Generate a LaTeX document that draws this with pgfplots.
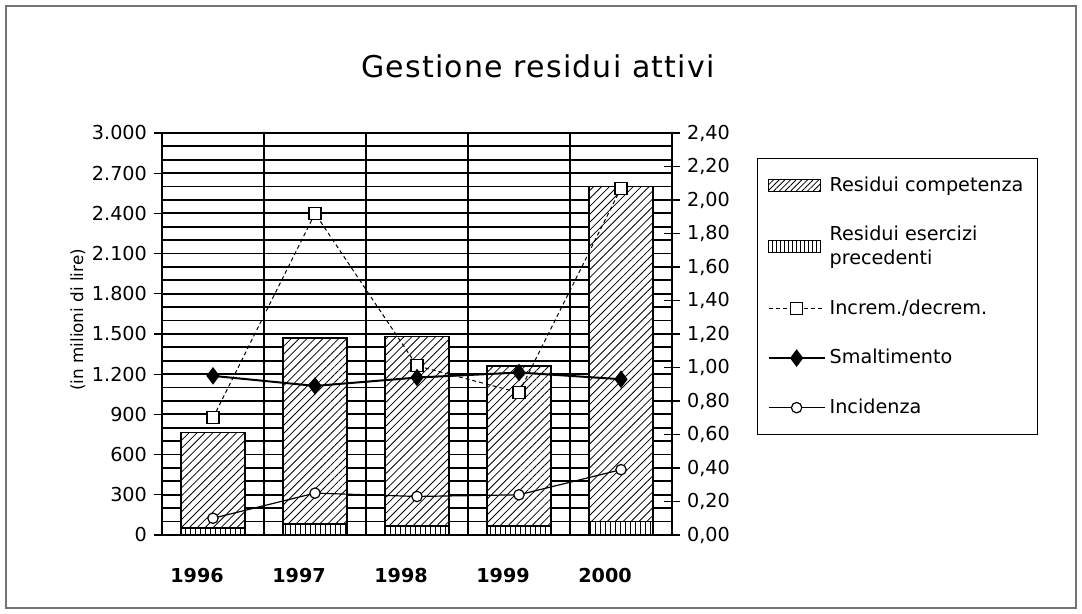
\documentclass[border=0pt]{standalone}
\usepackage{pgfplots}
\pgfplotsset{compat=1.18}
\usepackage{fontspec}
\setmainfont{DejaVu Sans}
\newfontfamily\titlefont[LetterSpace=4]{DejaVu Sans}
\usetikzlibrary{patterns.meta}
\pgfplotsset{
  mybarlegend/.style={legend image code/.code={\draw[##1] (5pt,-3pt) rectangle (31pt,3pt);}},
  mylinelegend/.style={legend image code/.code={\draw[mark repeat=2,mark phase=2,##1] plot coordinates {(5pt,0pt) (19pt,0pt) (33pt,0pt)};}},
}
\begin{document}
\begin{tikzpicture}[x=1pt,y=1pt]
\path (0,0) rectangle (541,307);
\draw[line width=0.6pt, black!55] (3,3) rectangle (538,304);
\begin{axis}[
  at={(81pt,39.5pt)}, anchor=south west,
  width=255pt, height=201pt, scale only axis,
  xmin=-0.5, xmax=4.5, ymin=0, ymax=3000,
  xtick={0,1,2,3,4}, xticklabels={1996,1997,1998,1999,2000},
  xticklabel style={font=\bfseries\fontsize{9.6}{11}\selectfont, xshift=-8pt, yshift=-9pt},
  major x tick style={draw=none},
  minor xtick={-0.5,0.5,1.5,2.5,3.5,4.5},
  xminorgrids, minor x grid style={black, line width=0.7pt},
  ytick={0,300,...,3000}, minor y tick num=2, ymajorgrids, yminorgrids,
  major y grid style={black, line width=0.9pt},
  minor y grid style={black, line width=0.9pt},
  ytick pos=left, xtick pos=bottom, tick align=outside, major tick length=4pt, minor tick length=0pt,
  yticklabel style={font=\fontsize{9.6}{11}\selectfont, /pgf/number format/.cd, 1000 sep={.}, assume math mode=true},
  ylabel={(in milioni di lire)},
  ylabel style={font=\fontsize{8.4}{10}\selectfont, at={(-0.165,0.535)}, anchor=center},
  title={Gestione residui attivi},
  title style={font=\titlefont\fontsize{15}{17}\selectfont, at={(0.737,1.135)}, anchor=center},
  ybar stacked, bar width=32pt,
  axis line style={black, line width=0.8pt},
  tick style={black, line width=0.6pt},
]
\addplot[draw=black, line width=0.8pt, fill=white, postaction={pattern={Lines[angle=90,distance=2.5pt,line width=0.4pt]}}]
  coordinates {(0,50) (1,80) (2,65) (3,65) (4,100)};
\addplot[draw=black, line width=0.8pt, fill=white, postaction={pattern={Lines[angle=45,distance=2.8pt,line width=0.4pt]}}]
  coordinates {(0,715) (1,1390) (2,1415) (3,1195) (4,2500)};
\end{axis}
\begin{axis}[
  at={(81pt,39.5pt)}, anchor=south west,
  width=255pt, height=201pt, scale only axis,
  xmin=-0.5, xmax=4.5, ymin=0, ymax=2.4,
  axis x line=none, axis y line*=right,
  axis line style={black, line width=0.8pt, -},
  ytick={0,0.2,0.4,0.6,0.8,1.0,1.2,1.4,1.6,1.8,2.0,2.2,2.4},
  tick align=center, major tick length=8pt, minor tick length=0pt,
  tick style={black, line width=0.6pt},
  yticklabel style={font=\fontsize{9.6}{11}\selectfont, /pgf/number format/.cd, fixed, fixed zerofill, precision=2, use comma, assume math mode=true},
  mylinelegend,
  legend cell align=left,
  legend style={at={(1.1667,0.938)}, anchor=north west, draw=black, line width=0.6pt,
    font=\fontsize{9.6}{12}\selectfont, row sep=12pt, inner xsep=5pt, inner ysep=7pt,
    cells={anchor=west, align=left}},
]
\addlegendimage{mybarlegend, draw=black, line width=0.6pt, fill=white, postaction={pattern={Lines[angle=45,distance=2pt,line width=0.4pt]}}}
\addlegendentry{Residui competenza}
\addlegendimage{mybarlegend, draw=black, line width=0.6pt, fill=white, postaction={pattern={Lines[angle=90,distance=2pt,line width=0.4pt]}}}
\addlegendentry{Residui esercizi\\precedenti}
\addplot[black, line width=0.5pt, dash pattern=on 2pt off 1.5pt, mark=square*, mark size=3pt, mark options={solid, fill=white, line width=0.6pt}]
  coordinates {(0,0.70) (1,1.92) (2,1.01) (3,0.85) (4,2.07)};
\addlegendentry{Increm./decrem.}
\addplot[black, line width=1pt, mark=diamond*, mark size=3.6pt, mark options={solid, fill=black}]
  coordinates {(0,0.95) (1,0.89) (2,0.94) (3,0.97) (4,0.93)};
\addlegendentry{Smaltimento}
\addplot[black, line width=0.6pt, mark=*, mark size=2.6pt, mark options={solid, fill=white, line width=0.6pt}]
  coordinates {(0,0.10) (1,0.25) (2,0.23) (3,0.24) (4,0.39)};
\addlegendentry{Incidenza}
\end{axis}
\end{tikzpicture}
\end{document}
